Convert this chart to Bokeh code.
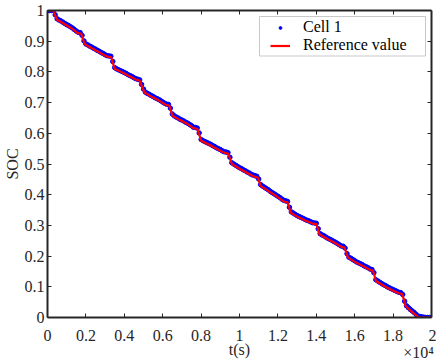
from bokeh.plotting import figure
from bokeh.models import Range1d, LinearAxis, FixedTicker, Legend, LegendItem, CustomJSTickFormatter, BoxAnnotation
from bokeh.embed import file_html
from bokeh.resources import INLINE

ref_t = [0, 300, 350, 500, 900, 1300, 1550, 1760, 1850, 1950, 2400, 2800, 3100, 3320, 3400, 3500,
         3900, 4300, 4600, 4790, 4900, 5050, 5450, 5850, 6150, 6340, 6420, 6510, 6900, 7300, 7600,
         7800, 7900, 8000, 8450, 8850, 9200, 9400, 9500, 9600, 10050, 10450, 10750, 10950, 11030,
         11100, 11550, 11950, 12300, 12500, 12580, 12650, 13050, 13450, 13800, 14000, 14080, 14160,
         14600, 15000, 15300, 15470, 15560, 15650, 16100, 16500, 16800, 16950, 17030, 17100, 17550,
         17950, 18300, 18480, 18560, 18650, 18950, 19300, 19500, 20000]
ref_soc = [1.0, 1.0, 0.99, 0.97, 0.955, 0.94, 0.927, 0.924, 0.905, 0.89, 0.874, 0.86, 0.85, 0.848, 0.83, 0.81,
           0.798, 0.785, 0.775, 0.772, 0.755, 0.733, 0.718, 0.705, 0.693, 0.69, 0.675, 0.657, 0.643, 0.63, 0.617,
           0.614, 0.597, 0.576, 0.562, 0.548, 0.537, 0.534, 0.518, 0.50, 0.483, 0.469, 0.459, 0.456, 0.442,
           0.429, 0.41, 0.394, 0.378, 0.375, 0.36, 0.342, 0.327, 0.315, 0.306, 0.304, 0.29, 0.271,
           0.255, 0.242, 0.23, 0.228, 0.212, 0.195, 0.178, 0.165, 0.155, 0.152, 0.137, 0.119, 0.102,
           0.089, 0.079, 0.076, 0.058, 0.0375, 0.02, 0.002, 0.0, 0.0]

cell_t = [0, 100, 200, 300, 400, 500, 600, 700, 800, 900,
          1000, 1100, 1200, 1300, 1400, 1500, 1600, 1700, 1800, 1900,
          2000, 2100, 2200, 2300, 2400, 2500, 2600, 2700, 2800, 2900,
          3000, 3100, 3200, 3300, 3400, 3500, 3600, 3700, 3800, 3900,
          4000, 4100, 4200, 4300, 4400, 4500, 4600, 4700, 4800, 4900,
          5000, 5100, 5200, 5300, 5400, 5500, 5600, 5700, 5800, 5900,
          6000, 6100, 6200, 6300, 6400, 6500, 6600, 6700, 6800, 6900,
          7000, 7100, 7200, 7300, 7400, 7500, 7600, 7700, 7800, 7900,
          8000, 8100, 8200, 8300, 8400, 8500, 8600, 8700, 8800, 8900,
          9000, 9100, 9200, 9300, 9400, 9500, 9600, 9700, 9800, 9900,
          10000, 10100, 10200, 10300, 10400, 10500, 10600, 10700, 10800, 10900,
          11000, 11100, 11200, 11300, 11400, 11500, 11600, 11700, 11800, 11900,
          12000, 12100, 12200, 12300, 12400, 12500, 12600, 12700, 12800, 12900,
          13000, 13100, 13200, 13300, 13400, 13500, 13600, 13700, 13800, 13900,
          14000, 14100, 14200, 14300, 14400, 14500, 14600, 14700, 14800, 14900,
          15000, 15100, 15200, 15300, 15400, 15500, 15600, 15700, 15800, 15900,
          16000, 16100, 16200, 16300, 16400, 16500, 16600, 16700, 16800, 16900,
          17000, 17100, 17200, 17300, 17400, 17500, 17600, 17700, 17800, 17900,
          18000, 18100, 18200, 18300, 18400, 18500, 18600, 18700, 18800, 18900,
          19000, 19100, 19200, 19300, 19400, 19500, 19600, 19700, 19800, 19900,
          20000]
cell_soc = [1.0, 1.0, 1.0, 1.0, 0.986, 0.973, 0.969, 0.966, 0.962, 0.958,
            0.954, 0.951, 0.947, 0.943, 0.938, 0.933, 0.929, 0.928, 0.919, 0.901,
            0.891, 0.888, 0.884, 0.881, 0.877, 0.874, 0.870, 0.867, 0.863, 0.860,
            0.856, 0.853, 0.852, 0.851, 0.834, 0.814, 0.810, 0.807, 0.804, 0.801,
            0.798, 0.795, 0.791, 0.788, 0.785, 0.781, 0.778, 0.776, 0.774, 0.759,
            0.744, 0.734, 0.730, 0.727, 0.723, 0.720, 0.716, 0.713, 0.710, 0.706,
            0.702, 0.698, 0.695, 0.694, 0.682, 0.663, 0.657, 0.653, 0.650, 0.646,
            0.643, 0.640, 0.636, 0.633, 0.629, 0.625, 0.620, 0.619, 0.617, 0.601,
            0.580, 0.576, 0.573, 0.570, 0.567, 0.564, 0.560, 0.557, 0.553, 0.550,
            0.547, 0.543, 0.540, 0.539, 0.537, 0.522, 0.504, 0.500, 0.496, 0.492,
            0.488, 0.485, 0.481, 0.478, 0.474, 0.471, 0.467, 0.464, 0.462, 0.460,
            0.451, 0.433, 0.428, 0.424, 0.420, 0.416, 0.411, 0.407, 0.403, 0.399,
            0.395, 0.391, 0.386, 0.382, 0.380, 0.378, 0.359, 0.344, 0.340, 0.336,
            0.332, 0.329, 0.326, 0.323, 0.320, 0.317, 0.315, 0.312, 0.309, 0.308,
            0.307, 0.289, 0.273, 0.269, 0.266, 0.262, 0.258, 0.255, 0.252, 0.248,
            0.245, 0.241, 0.237, 0.233, 0.232, 0.226, 0.208, 0.196, 0.193, 0.189,
            0.185, 0.181, 0.178, 0.175, 0.172, 0.168, 0.165, 0.162, 0.158, 0.156,
            0.146, 0.123, 0.119, 0.115, 0.111, 0.107, 0.104, 0.100, 0.097, 0.094,
            0.091, 0.088, 0.085, 0.082, 0.081, 0.075, 0.053, 0.038, 0.032, 0.026,
            0.021, 0.016, 0.010, 0.005, 0.003, 0.002, 0.001, 0.0, 0.0, 0.0,
            0.0]

x_ticks = [0, 2000, 4000, 6000, 8000, 10000, 12000, 14000, 16000, 18000, 20000]
x_tick_labels = ["0", "0.2", "0.4", "0.6", "0.8", "1", "1.2", "1.4", "1.6", "1.8", "2"]
x_scale_note = "×10⁴"
y_ticks = [0, 0.1, 0.2, 0.3, 0.4, 0.5, 0.6, 0.7, 0.8, 0.9, 1.0]
y_tick_labels = ["0", "0.1", "0.2", "0.3", "0.4", "0.5", "0.6", "0.7", "0.8", "0.9", "1"]

FONT = "Liberation Serif"
TXT = "#262626"
NBSP = "\u00a0"

p = figure(width=436, height=360, output_backend="svg", toolbar_location=None,
           x_range=Range1d(0, 20000), y_range=Range1d(0, 1),
           min_border_left=44, min_border_right=5, min_border_top=10, min_border_bottom=43)
p.background_fill_color = "white"
p.border_fill_color = "white"
p.outline_line_color = None
p.xgrid.visible = False
p.ygrid.visible = False

def style_axis(ax, ticks, labels=None):
    ax.ticker = FixedTicker(ticks=ticks)
    ax.minor_tick_line_color = None
    ax.major_tick_in = 4
    ax.major_tick_out = 0
    ax.major_tick_line_color = TXT
    ax.major_tick_line_width = 1
    ax.axis_line_color = TXT
    ax.axis_line_width = 2
    ax.major_label_text_font = FONT
    ax.major_label_text_font_size = "16px"
    ax.major_label_text_color = TXT
    if labels is None:
        ax.formatter = CustomJSTickFormatter(code="return ''")
    else:
        ax.major_label_overrides = {t: l for t, l in zip(ticks, labels)}

xa = p.xaxis[0]
ya = p.yaxis[0]
x_labels_full = list(x_tick_labels)
# last tick carries the MATLAB-style exponent on a second line
x_labels_full[-1] = NBSP * 7 + x_tick_labels[-1] + "\n" + x_scale_note
style_axis(xa, x_ticks, x_labels_full)
style_axis(ya, y_ticks, y_tick_labels)
xa.major_label_standoff = 9
xa.major_label_text_line_height = 1.0
ya.major_label_standoff = 3
xa.axis_label = "t(s)"
ya.axis_label = "SOC"
for ax in (xa, ya):
    ax.axis_label_text_font = FONT
    ax.axis_label_text_font_size = "16px"
    ax.axis_label_text_font_style = "normal"
    ax.axis_label_text_color = TXT
xa.axis_label_standoff = -23
ya.axis_label_standoff = 1

top = LinearAxis()
style_axis(top, x_ticks)
top.major_label_standoff = 0
p.add_layout(top, "above")
right = LinearAxis()
style_axis(right, y_ticks)
right.major_label_standoff = 0
p.add_layout(right, "right")

dots = p.scatter(cell_t, cell_soc, marker="circle", size=4.5, fill_color="#0000ff", line_color="#0000ff")
ln = p.line(ref_t, ref_soc, line_color="#ff0000", line_width=2.2, line_join="round")
dot_key = p.scatter(cell_t[:1], cell_soc[:1], marker="circle", size=3, fill_color="#0000ff", line_color="#0000ff")

# legend frame
p.add_layout(BoxAnnotation(left=212, right=378, bottom=261.5, top=301,
                           left_units="screen", right_units="screen",
                           bottom_units="screen", top_units="screen",
                           fill_color="white", fill_alpha=1.0,
                           line_color="#c8c8c8", line_width=1, line_alpha=1.0))

def make_legend(item, y):
    lg = Legend(items=[item], location=(223, y))
    lg.label_text_font = FONT
    lg.label_text_font_size = "16px"
    lg.label_text_color = "#000000"
    lg.border_line_color = None
    lg.background_fill_alpha = 0
    lg.padding = 0
    lg.spacing = 0
    lg.margin = 0
    lg.glyph_width = 20
    lg.glyph_height = 7
    lg.label_height = 22
    lg.label_standoff = 13
    return lg

p.add_layout(make_legend(LegendItem(label="Cell 1", renderers=[dot_key]), 279), "center")
p.add_layout(make_legend(LegendItem(label="Reference value", renderers=[ln]), 261), "center")

open("out.html", "w").write(file_html(p, INLINE))
